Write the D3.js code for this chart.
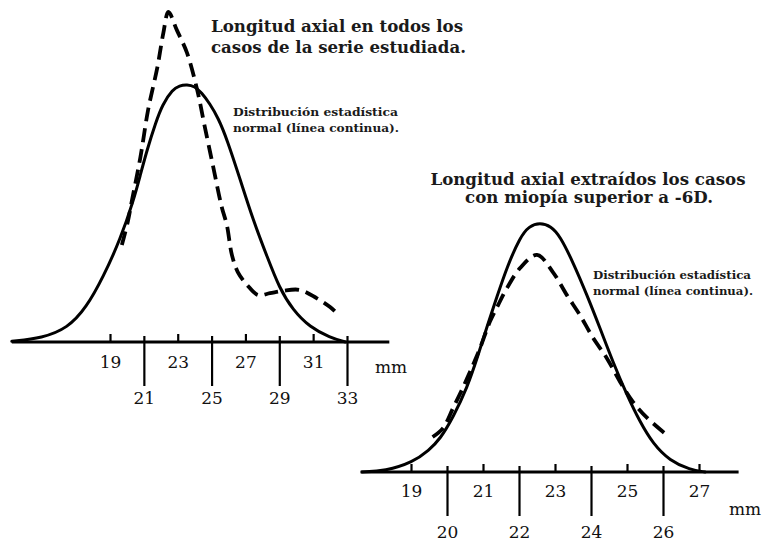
<!DOCTYPE html>
<html><head><meta charset="utf-8">
<script src="https://cdn.jsdelivr.net/npm/d3@7"></script>
<style>body{margin:0;background:#fff}svg{display:block}</style>
</head><body>
<svg id="c" width="771" height="542"></svg>
<script>
// ---- data (mm, relative frequency) ----
const leftUpTicks = [19, 23, 27, 31];
const leftDownTicks = [21, 25, 29, 33];
const rightUpTicks = [19, 21, 23, 25, 27];
const rightDownTicks = [20, 22, 24, 26];
const leftAxisRange = [13.2, 35.5];
const rightAxisRange = [17.6, 28.1];

const leftNormal = [[13.2,0.2],[15.0,1.2],[16.5,4.2],[17.6,10.4],[18.6,19.7],[19.6,31.0],[20.4,43.0],[20.8,50.8],[21.2,58.4],[21.7,66.5],[22.1,72.0],[22.7,76.5],[23.1,77.7],[23.55,78.0],[24.0,77.5],[24.4,75.6],[24.9,72.2],[25.4,67.8],[25.9,61.6],[26.7,49.1],[27.45,37.0],[28.3,25.6],[29.0,16.4],[29.8,9.7],[30.8,4.5],[32.0,1.3],[32.9,0]];
const leftObserved = [[19.7,29.4],[20.05,36.4],[20.3,43.0],[20.8,56.1],[21.25,70.3],[21.8,83.3],[22.15,93.6],[22.45,100],[22.95,94.5],[23.55,87.6],[24.15,76.4],[24.6,65.2],[25.1,53.0],[25.6,40.9],[25.9,35.5],[26.2,26.4],[26.55,21.2],[27.1,17.3],[27.75,14.2],[28.45,14.8],[29.2,15.5],[30.2,15.8],[31.2,13.3],[32.0,10.6],[32.5,8.2]];
const rightNormal = [[17.64,0],[18.28,0.3],[19.06,3.0],[19.5,6.6],[19.81,10.0],[20.17,16.6],[20.56,25.5],[20.86,35.2],[21.11,44.0],[21.39,53.2],[21.67,62.2],[22.03,71.2],[22.28,74.5],[22.58,75.6],[22.89,74.5],[23.14,71.5],[23.5,63.6],[23.89,53.6],[24.25,43.6],[24.61,33.3],[25.0,23.3],[25.36,15.2],[25.72,8.6],[26.19,3.4],[26.75,0.7],[27.17,0]];
const rightObserved = [[19.6,10.6],[19.89,13.3],[20.17,19.4],[20.44,25.5],[20.72,32.4],[20.92,37.6],[21.19,45.5],[21.42,50.6],[21.67,55.8],[22.03,61.8],[22.5,65.8],[22.94,60.6],[23.33,53.6],[23.69,47.6],[24.06,40.6],[24.44,34.5],[24.81,27.3],[25.17,21.2],[25.56,16.4],[26.11,11.2]];

const leftTitle = ["Longitud axial en todos los", "casos de la serie estudiada."];
const rightTitle = ["Longitud axial extraídos los casos", "con miopía superior a -6D."];
const note = ["Distribución estadística", "normal (línea continua)."];
const unit = "mm";

// ---- drawing ----
const svg = d3.select("#c");
const serif = "'DejaVu Serif', 'Liberation Serif', serif";

function panel(cfg) {
  const g = svg.append("g");
  const x = d3.scaleLinear().domain(cfg.xDomain).range(cfg.xRange);
  const y = d3.scaleLinear().domain([0, 100]).range(cfg.yRange);
  const base = y(0);

  g.append("line")
    .attr("x1", x(cfg.axisRange[0])).attr("x2", x(cfg.axisRange[1]))
    .attr("y1", base).attr("y2", base)
    .attr("stroke", "#000").attr("stroke-width", 3.2);

  const up = g.append("g").attr("transform", `translate(0,${base})`)
    .call(d3.axisBottom(x).tickValues(cfg.upTicks).tickSizeInner(-8).tickSizeOuter(0).tickPadding(cfg.upPad).tickFormat(d3.format("d")));
  const dn = g.append("g").attr("transform", `translate(0,${base - 6})`)
    .call(d3.axisBottom(x).tickValues(cfg.downTicks).tickSize(cfg.longLen).tickPadding(cfg.downPad).tickFormat(d3.format("d")));
  [up, dn].forEach(a => {
    a.select(".domain").remove();
    a.selectAll(".tick line").attr("stroke", "#000").attr("stroke-width", 2.2);
    a.selectAll(".tick text").attr("fill", "#111").attr("font-family", serif)
      .attr("font-size", 17).attr("dy", "0.71em");
  });

  g.append("text").text(unit).attr("x", cfg.unitPos[0]).attr("y", cfg.unitPos[1])
    .attr("font-family", serif).attr("font-size", 17).attr("fill", "#111");

  const smooth = d3.line().x(d => x(d[0])).y(d => y(d[1])).curve(d3.curveBasis);
  const poly = d3.line().x(d => x(d[0])).y(d => y(d[1])).curve(d3.curveCatmullRom.alpha(0.5));
  g.append("path").datum(cfg.normal).attr("d", smooth)
    .attr("fill", "none").attr("stroke", "#000").attr("stroke-width", 3)
    .attr("stroke-linejoin", "round").attr("stroke-linecap", "round");
  g.append("path").datum(cfg.observed).attr("d", poly)
    .attr("fill", "none").attr("stroke", "#000").attr("stroke-width", 3.8)
    .attr("stroke-dasharray", "14,7").attr("stroke-linecap", "butt");

  cfg.title.forEach((t, i) => {
    g.append("text").text(t)
      .attr("x", cfg.titlePos[i][0]).attr("y", cfg.titlePos[i][1])
      .attr("text-anchor", cfg.titleAnchor)
      .attr("textLength", cfg.titleLen[i]).attr("lengthAdjust", "spacingAndGlyphs")
      .attr("font-family", serif).attr("font-weight", "bold").attr("font-size", 16.5).attr("fill", "#1a1a1a");
  });
  note.forEach((t, i) => {
    g.append("text").text(t)
      .attr("x", cfg.notePos[0]).attr("y", cfg.notePos[1] + i * 15.5)
      .attr("textLength", cfg.noteLen[i]).attr("lengthAdjust", "spacingAndGlyphs")
      .attr("font-family", serif).attr("font-weight", "bold").attr("font-size", 11).attr("fill", "#1a1a1a");
  });
}

panel({
  xDomain: [19, 33], xRange: [110, 347], yRange: [342, 12],
  axisRange: leftAxisRange, upTicks: leftUpTicks, downTicks: leftDownTicks,
  upPad: 14, downPad: 6, longLen: 50,
  unitPos: [375, 373],
  normal: leftNormal, observed: leftObserved,
  title: leftTitle, titlePos: [[211, 32], [211, 53]], titleAnchor: "start", titleLen: [252, 255],
  notePos: [233, 116], noteLen: [165, 166]
});

panel({
  xDomain: [20, 26], xRange: [447, 663], yRange: [472, 142],
  axisRange: rightAxisRange, upTicks: rightUpTicks, downTicks: rightDownTicks,
  upPad: 13, downPad: 10, longLen: 50,
  unitPos: [729, 515],
  normal: rightNormal, observed: rightObserved,
  title: rightTitle, titlePos: [[588, 185], [589, 203]], titleAnchor: "middle", titleLen: [315, 248],
  notePos: [593, 279], noteLen: [158, 160]
});
</script>
</body></html>
